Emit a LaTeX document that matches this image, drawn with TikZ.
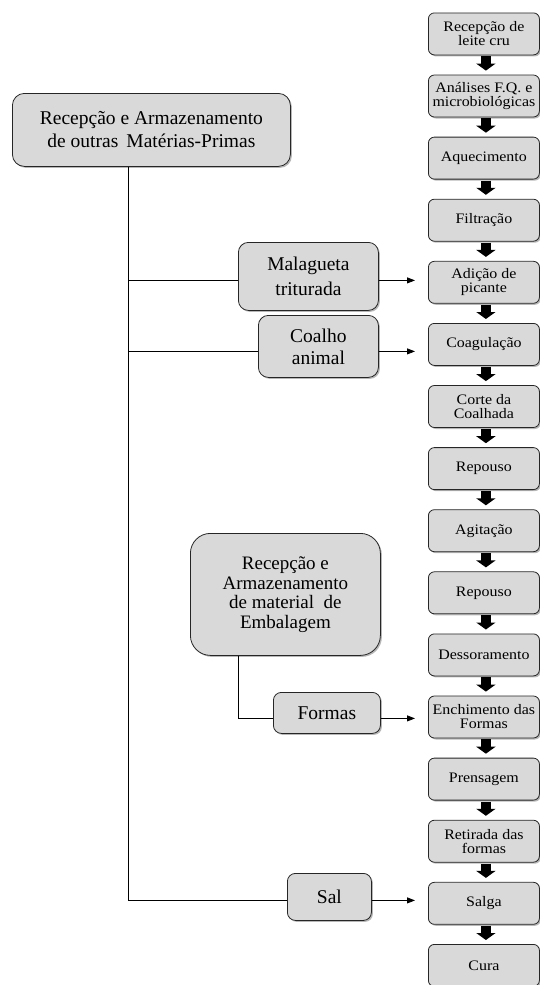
\documentclass[tikz,border=0pt]{standalone}
\usepackage{fontspec}
\setmainfont{Liberation Serif}
\newfontfamily\colfont[FakeStretch=1.1]{Liberation Serif}
\usetikzlibrary{arrows.meta,shadows,calc}
\definecolor{boxfill}{HTML}{D9D9D9}
\begin{document}
\begin{tikzpicture}[x=1pt,y=-1pt,
  base/.style={draw=black!85, line width=0.8pt, fill=boxfill,
    drop shadow={shadow xshift=1.5pt,shadow yshift=-1.5pt,opacity=0.4,fill=black!70},
    align=center, inner sep=0pt},
  stepbox/.style={base, rounded corners=6pt, minimum width=111pt, minimum height=42pt,
    anchor=north west, font=\colfont\fontsize{14.5}{14}\selectfont},
  srcbox/.style={base, anchor=north west, font=\fontsize{19.5}{23}\selectfont},
  flow/.style={line width=10pt, -{Triangle[width=19pt,length=7pt]}, shorten >=4pt, shorten <=1pt},
  feed/.style={line width=0.8pt, -{Triangle[width=6pt,length=8pt]}, shorten >=13pt},
  link/.style={line width=0.8pt}
]
\useasboundingbox (0,0) rectangle (540,985);

% main process column
\foreach \i/\t in {1/{Recepção de\\leite cru},
                   2/{Análises F.Q. e\\microbiológicas},
                   3/{Aquecimento},
                   4/{Filtração},
                   5/{Adição de\\picante},
                   6/{Coagulação},
                   7/{Corte da\\Coalhada},
                   8/{Repouso},
                   9/{Agitação},
                   10/{Repouso},
                   11/{Dessoramento},
                   12/{Enchimento das\\Formas},
                   13/{Prensagem},
                   14/{Retirada das\\formas},
                   15/{Salga},
                   16/{Cura}}{
  \pgfmathsetmacro{\ty}{12.5+62.1*(\i-1)}
  \node[stepbox] (s\i) at (428,\ty) {\t};
}
\foreach \i in {1,...,15}{
  \pgfmathtruncatemacro{\j}{\i+1}
  \draw[flow] ([xshift=2pt]s\i.south) -- ([xshift=2pt]s\j.north);
}

% source boxes
\node[srcbox, rounded corners=12pt, minimum width=278pt, minimum height=73pt] (top) at (12,93)
  {Recepção e Armazenamento\\de outras \,Matérias-Primas};
\node[srcbox, rounded corners=10pt, minimum width=140pt, minimum height=68pt,
  font=\fontsize{19.5}{25}\selectfont] (mal) at (238,242) {Malagueta\\triturada};
\node[srcbox, rounded corners=10pt, minimum width=120pt, minimum height=62pt,
  font=\fontsize{19.5}{22}\selectfont] (coa) at (258,315) {Coalho\\animal};
\node[srcbox, rounded corners=20pt, minimum width=190pt, minimum height=122pt,
  font=\fontsize{19}{19.5}\selectfont] (emb) at (190,533)
  {Recepção e\\Armazenamento\\de material \ de\\Embalagem};
\node[srcbox, rounded corners=8pt, minimum width=107pt, minimum height=41pt] (for) at (273,692) {Formas};
\node[srcbox, rounded corners=8pt, minimum width=84pt, minimum height=47pt] (sal) at (287,873) {Sal};

% connection points on the source boxes
\coordinate (malw) at ([yshift=-4pt]mal.west);
\coordinate (male) at ([yshift=-4pt]mal.east);
\coordinate (coaw) at ([yshift=-5pt]coa.west);
\coordinate (coae) at ([yshift=-5pt]coa.east);
\coordinate (forw) at ([yshift=-5.5pt]for.west);
\coordinate (fore) at ([yshift=-5.5pt]for.east);
\coordinate (salw) at ([yshift=-3.5pt]sal.west);
\coordinate (sale) at ([yshift=-3.5pt]sal.east);

% trunk from top box
\coordinate (t0) at ([xshift=-23pt]top.south);
\draw[link] (t0) |- (salw);
\draw[link] (t0 |- malw) -- (malw);
\draw[link] (t0 |- coaw) -- (coaw);

% feeds into the process
\draw[feed] (male) -- (male -| s5.west);
\draw[feed] (coae) -- (coae -| s6.west);
\draw[feed] (fore) -- (fore -| s12.west);
\draw[feed] (sale) -- (sale -| s15.west);

% packaging branch
\coordinate (e0) at ([xshift=-47pt]emb.south);
\draw[link] (e0) |- (forw);
\end{tikzpicture}
\end{document}
